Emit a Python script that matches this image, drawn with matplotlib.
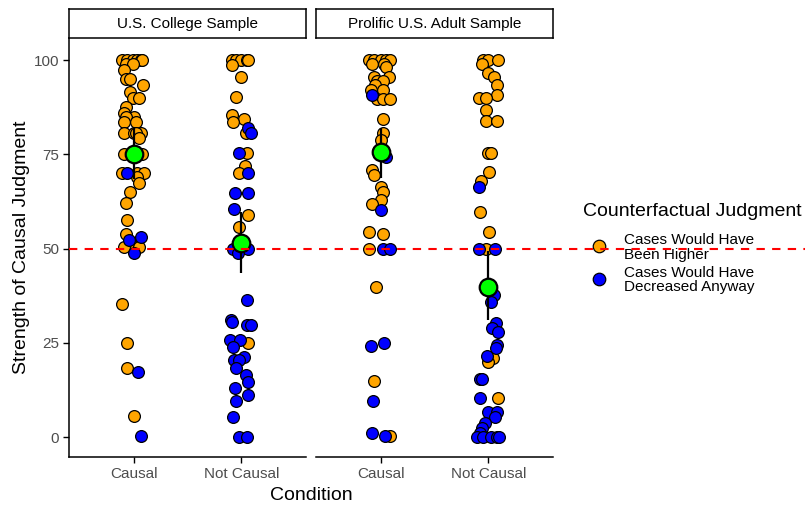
import matplotlib
matplotlib.use("Agg")
import matplotlib.pyplot as plt
import matplotlib.transforms as mtransforms
from matplotlib.lines import Line2D

plt.rcParams['font.family'] = ['Liberation Sans', 'DejaVu Sans']

conditions = ["Causal", "Not Causal"]
samples = ["U.S. College Sample", "Prolific U.S. Adult Sample"]
legend_title = "Counterfactual Judgment"
legend_labels = ["Cases Would Have\nBeen Higher", "Cases Would Have\nDecreased Anyway"]

# ratings, with the jitter offset (in category units) of each point
college_causal_higher = [100, 100, 100, 100, 100, 100, 99, 99, 97.3, 95, 95, 93.4, 91.5, 90, 90, 87.5, 86,
                         85, 85, 83.6, 83.6, 80.6, 80.6, 80.6, 80.6, 79.3, 75, 75, 70, 70, 70, 69, 67.4, 65,
                         62, 57.5, 54, 50.4, 50.4, 50.4, 35.3, 24.9, 18.3, 5.7]
college_causal_higher_jit = [-0.11, -0.06, -0.01, 0.03, 0.07, 0.08, -0.07, -0.01, -0.09, -0.07, -0.03, 0.09,
                             -0.03, -0.01, 0.05, -0.07, -0.09, 0.0, -0.07, -0.09, 0.02, -0.09, 0.0, 0.07,
                             0.02, 0.05, -0.09, 0.08, -0.11, 0.03, 0.10, 0.03, 0.05, -0.03, -0.07, -0.06,
                             -0.07, -0.09, 0.02, 0.05, -0.11, -0.06, -0.06, 0.0]
college_causal_decr = [70, 53, 52.2, 48.8, 17.2, 0.3]
college_causal_decr_jit = [-0.06, 0.07, -0.04, 0.0, 0.04, 0.07]

college_not_higher = [100, 100, 100, 100, 100, 98.7, 95.6, 90.3, 85.4, 84.5, 83.6, 80.6, 75.3, 72, 70,
                      58.9, 55.7, 50, 24.9]
college_not_higher_jit = [-0.09, -0.05, 0.0, 0.05, 0.06, -0.09, 0.0, -0.05, -0.09, 0.02, -0.08, 0.04, 0.05,
                          0.03, -0.02, 0.06, -0.02, -0.02, 0.06]
college_not_decr = [82, 80.6, 75.3, 70, 64.8, 64.8, 60.5, 50, 50, 48.8, 36.3, 31, 30.5, 29.7, 29.7, 25.7,
                    25.7, 24, 21.3, 20.4, 20.4, 18.3, 16.4, 14.7, 13, 11.1, 9.6, 5.3, 0.1, 0.1]
college_not_decr_jit = [0.06, 0.09, -0.02, 0.06, -0.06, 0.06, -0.07, -0.08, 0.06, -0.03, 0.05, -0.10, -0.09,
                        0.05, 0.09, -0.11, -0.01, -0.08, 0.02, -0.07, -0.02, -0.05, 0.04, 0.06, -0.06, 0.06,
                        -0.05, -0.08, -0.02, 0.05]

prolific_causal_higher = [100, 100, 100, 100, 100, 99, 99, 98.2, 95.6, 95.6, 94.6, 94.6, 93.4, 92, 92, 89.8,
                          89.8, 89.8, 84.3, 80.6, 78.8, 76, 70.8, 69.5, 66.4, 65, 62.9, 61.8, 54.5, 53.8, 50,
                          39.9, 14.9, 0.3]
prolific_causal_higher_jit = [-0.11, -0.06, 0.0, 0.05, 0.09, -0.08, 0.03, 0.05, -0.06, 0.08, -0.03, 0.02,
                              -0.05, -0.09, 0.02, -0.03, 0.02, 0.09, 0.02, 0.02, 0.0, -0.02, -0.08, -0.06,
                              0.0, 0.02, 0.0, -0.08, -0.11, 0.02, -0.11, -0.04, -0.06, 0.09]
prolific_causal_decr = [90.7, 74.3, 60.2, 50, 50, 24.9, 24.1, 9.6, 1, 0.3]
prolific_causal_decr_jit = [-0.08, 0.05, 0.0, 0.02, 0.09, 0.03, -0.09, -0.07, -0.08, 0.04]

prolific_not_higher = [100, 100, 100, 99, 96.5, 95.6, 93.4, 90.7, 89.9, 89.9, 86.7, 83.9, 83.9, 75.3, 75.3,
                       70.4, 68, 59.8, 54.5, 50, 21, 20, 10.3]
prolific_not_higher_jit = [-0.05, 0.0, 0.09, -0.06, 0.0, 0.05, 0.08, 0.08, -0.09, -0.02, -0.02, -0.02, 0.08,
                           0.0, 0.02, 0.01, -0.07, -0.08, 0.01, -0.02, 0.04, 0.0, 0.09]
prolific_not_decr = [66.4, 50, 50, 37.7, 35.9, 30.2, 29, 27.9, 24.4, 23.5, 21.5, 15.4, 15.4, 10.3, 6.7, 6.7,
                     5.4, 3.7, 2.5, 1, 0.1, 0.1, 0.1, 0.1, 0.1]
prolific_not_decr_jit = [-0.09, -0.09, 0.06, 0.05, 0.02, 0.07, 0.03, 0.09, 0.08, 0.07, -0.01, -0.08, -0.06,
                         -0.08, 0.0, 0.08, 0.06, -0.03, -0.06, -0.08, -0.11, -0.05, 0.02, 0.08, 0.10]

# condition means with interval ends
college_mean = [75.2, 51.6]
college_lo = [68.4, 43.5]
college_hi = [82.0, 59.8]
prolific_mean = [75.7, 39.9]
prolific_lo = [68.7, 31.0]
prolific_hi = [82.0, 49.3]

orange = "#FFA500"
blue = "#0000FF"
green = "#00FF00"
grey_txt = "#4D4D4D"

W, H = 810, 507
fig = plt.figure(figsize=(W / 100, H / 100), dpi=100)

panel_left = [69, 316]
panel_w = 237
top_px, bot_px = 38.3, 457
strip_top = 9.3

panels = [
    (samples[0],
     [(college_causal_higher, college_causal_higher_jit, college_causal_decr, college_causal_decr_jit),
      (college_not_higher, college_not_higher_jit, college_not_decr, college_not_decr_jit)],
     college_mean, college_lo, college_hi),
    (samples[1],
     [(prolific_causal_higher, prolific_causal_higher_jit, prolific_causal_decr, prolific_causal_decr_jit),
      (prolific_not_higher, prolific_not_higher_jit, prolific_not_decr, prolific_not_decr_jit)],
     prolific_mean, prolific_lo, prolific_hi),
]

axes = []
for i, (title, groups, means, los, his) in enumerate(panels):
    ax = fig.add_axes([panel_left[i] / W, 1 - bot_px / H, panel_w / W, (bot_px - top_px) / H])
    axes.append(ax)
    for k, (yh, jh, yd, jd) in enumerate(groups):
        ax.scatter([k + 1 + j for j in jh], yh, s=72, c=orange, edgecolors="black", linewidths=0.9, zorder=3)
        ax.scatter([k + 1 + j for j in jd], yd, s=72, c=blue, edgecolors="black", linewidths=0.9, zorder=3)
    xs = [1, 2]
    ax.vlines(xs, los, his, color="black", lw=1.6, zorder=4)
    ax.scatter(xs, means, s=160, c=green, edgecolors="black", linewidths=1.6, zorder=5)

    ax.set_xlim(0.4, 2.6)
    ax.set_ylim(-5.3, 105.8)
    ax.set_xticks(xs)
    ax.set_xticklabels(conditions, fontsize=11, color=grey_txt)
    ax.tick_params(axis="x", length=4, width=1, color="black", pad=3)
    for s in ["top", "right"]:
        ax.spines[s].set_visible(False)
    ax.spines["bottom"].set_linewidth(1.1)
    ax.spines["left"].set_linewidth(1.1)
    if i == 0:
        ax.set_yticks([0, 25, 50, 75, 100])
        ax.set_yticklabels(["0", "25", "50", "75", "100"], fontsize=11, color=grey_txt)
        ax.tick_params(axis="y", length=4, width=1, color="black", pad=3)
        ax.set_ylabel("Strength of Causal Judgment", fontsize=14, labelpad=3)
    else:
        ax.spines["left"].set_visible(False)
        ax.set_yticks([])

    sax = fig.add_axes([panel_left[i] / W, 1 - top_px / H, panel_w / W, (top_px - strip_top) / H])
    sax.set_xticks([])
    sax.set_yticks([])
    for s in sax.spines.values():
        s.set_linewidth(1.1)
    sax.text(0.5, 0.5, title, ha="center", va="center", fontsize=11, transform=sax.transAxes)

fig.text((panel_left[0] + panel_left[1] + panel_w) / 2 / W, 1 - 495 / H, "Condition",
         ha="center", va="center", fontsize=14)

# reference line at 50, running across the whole figure
trans = mtransforms.blended_transform_factory(fig.transFigure, axes[0].transData)
fig.add_artist(Line2D([69 / W, 805 / W], [50, 50], transform=trans, color="red",
                      lw=1.5, linestyle=(0, (4, 3.5)), zorder=10))

# legend
fig.text(583 / W, 1 - 211 / H, legend_title, ha="left", va="center", fontsize=14)
for y_key, y_lab, col, lab in [(245.7, 247.5, orange, legend_labels[0]),
                               (279.3, 280, blue, legend_labels[1])]:
    fig.add_artist(Line2D([599 / W], [1 - y_key / H], marker="o", markersize=9, markerfacecolor=col,
                          markeredgecolor="black", markeredgewidth=0.9, linestyle="none",
                          transform=fig.transFigure))
    fig.text(624 / W, 1 - y_lab / H, lab, ha="left", va="center", fontsize=11, linespacing=1.05)

fig.savefig("out.png", dpi=100)
